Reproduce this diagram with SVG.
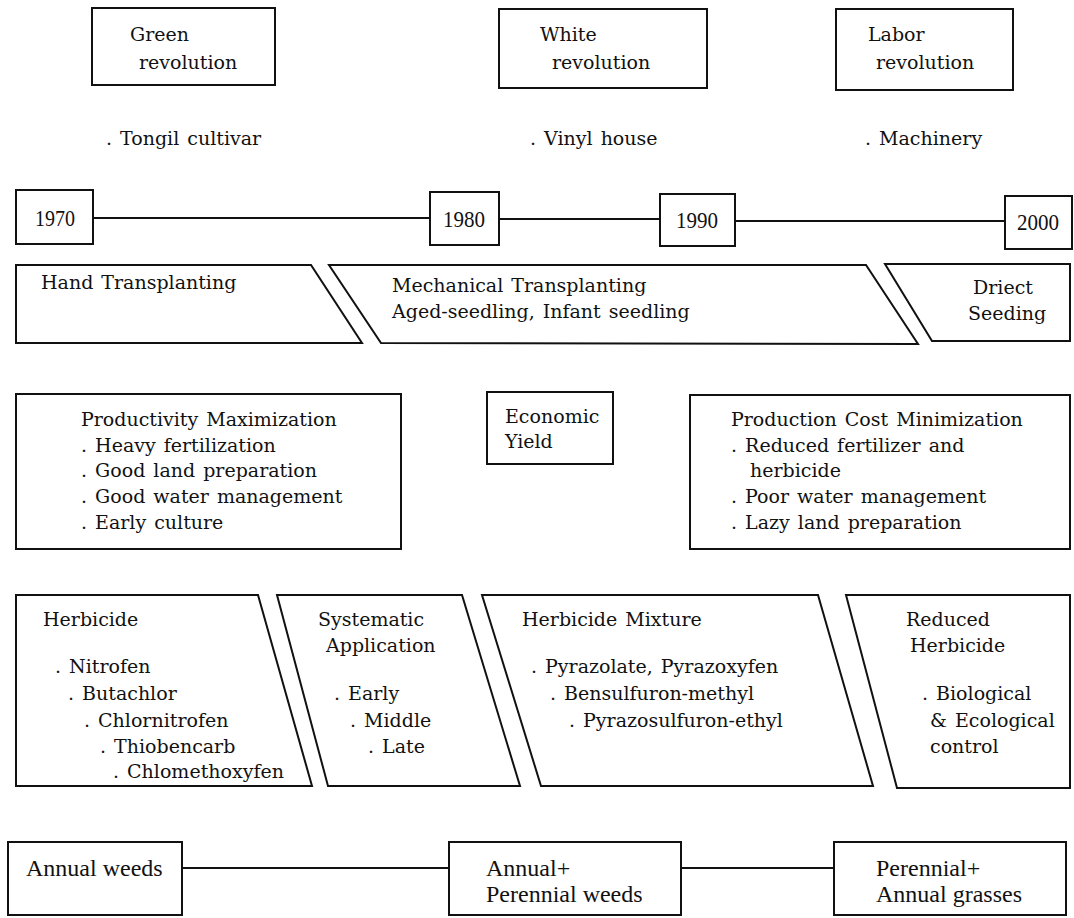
<svg xmlns="http://www.w3.org/2000/svg" width="1074" height="918" viewBox="0 0 1074 918">
<style>
.b{fill:none;stroke:#111;stroke-width:2}
.c{stroke:#111;stroke-width:2;fill:none}
text{font-family:"DejaVu Serif","Liberation Serif",serif;font-size:19px;word-spacing:2px;fill:#111}
.y{font-family:"Liberation Serif",serif;font-size:24px;word-spacing:0;text-anchor:middle}
.w{font-family:"Liberation Serif",serif;font-size:24px;word-spacing:0}
</style>
<rect width="1074" height="918" fill="#fff"/>
<g id="connectors">
<line class="c" x1="93" y1="218" x2="430" y2="218"/>
<line class="c" x1="499" y1="219" x2="660" y2="219"/>
<line class="c" x1="735" y1="221" x2="1005" y2="221"/>
<line class="c" x1="182" y1="868" x2="449" y2="868"/>
<line class="c" x1="681" y1="868" x2="834" y2="868"/>
</g>
<g id="green"><rect class="b" x="92" y="8" width="183" height="77"/><text x="130" y="41">Green</text><text x="139" y="69">revolution</text></g>
<g id="white"><rect class="b" x="499" y="9" width="208" height="79"/><text x="540" y="41">White</text><text x="552" y="69">revolution</text></g>
<g id="labor"><rect class="b" x="836" y="9" width="177" height="81"/><text x="868" y="41">Labor</text><text x="876" y="69">revolution</text></g>
<g id="tongil"><text x="106" y="145">. Tongil cultivar</text></g>
<g id="vinyl"><text x="530" y="145">. Vinyl house</text></g>
<g id="machinery"><text x="865" y="145">. Machinery</text></g>
<g id="y1970"><rect class="b" x="16" y="190" width="77" height="54"/><text class="y" x="55" y="226" textLength="40" lengthAdjust="spacingAndGlyphs">1970</text></g>
<g id="y1980"><rect class="b" x="430" y="192" width="69" height="53"/><text class="y" x="464" y="227" textLength="42" lengthAdjust="spacingAndGlyphs">1980</text></g>
<g id="y1990"><rect class="b" x="660" y="194" width="75" height="52"/><text class="y" x="697" y="228" textLength="42" lengthAdjust="spacingAndGlyphs">1990</text></g>
<g id="y2000"><rect class="b" x="1005" y="196" width="67" height="53"/><text class="y" x="1038" y="230" textLength="42" lengthAdjust="spacingAndGlyphs">2000</text></g>
<g id="hand"><polygon class="b" points="16,265 311,265 362,343 16,343"/><text x="41" y="289">Hand Transplanting</text></g>
<g id="mech"><polygon class="b" points="329,265 866,265 918,344 381,343"/><text x="392" y="292">Mechanical Transplanting</text><text x="392" y="318">Aged-seedling, Infant seedling</text></g>
<g id="direct"><polygon class="b" points="885,264 1070,264 1070,341 932,341"/><text x="973" y="294">Driect</text><text x="968" y="320">Seeding</text></g>
<g id="prod"><rect class="b" x="16" y="394" width="385" height="155"/><text x="81" y="426">Productivity Maximization</text><text x="81" y="452">. Heavy fertilization</text><text x="81" y="477">. Good land preparation</text><text x="81" y="503">. Good water management</text><text x="81" y="529">. Early culture</text></g>
<g id="econ"><rect class="b" x="487" y="392" width="126" height="72"/><text x="505" y="423">Economic</text><text x="505" y="448">Yield</text></g>
<g id="cost"><rect class="b" x="690" y="395" width="380" height="154"/><text x="731" y="426">Production Cost Minimization</text><text x="731" y="452">. Reduced fertilizer and</text><text x="750" y="477">herbicide</text><text x="731" y="503">. Poor water management</text><text x="731" y="529">. Lazy land preparation</text></g>
<g id="herb"><polygon class="b" points="16,595 258,595 312,786 16,786"/><text x="43" y="626">Herbicide</text><text x="55" y="673">. Nitrofen</text><text x="68" y="700">. Butachlor</text><text x="84" y="727">. Chlornitrofen</text><text x="100" y="753">. Thiobencarb</text><text x="113" y="778">. Chlomethoxyfen</text></g>
<g id="syst"><polygon class="b" points="277,595 462,595 520,786 328,786"/><text x="318" y="626">Systematic</text><text x="326" y="652">Application</text><text x="334" y="700">. Early</text><text x="350" y="727">. Middle</text><text x="368" y="753">. Late</text></g>
<g id="mix"><polygon class="b" points="482,595 818,595 873,786 541,786"/><text x="522" y="626">Herbicide Mixture</text><text x="531" y="673">. Pyrazolate, Pyrazoxyfen</text><text x="550" y="700">. Bensulfuron-methyl</text><text x="569" y="727">. Pyrazosulfuron-ethyl</text></g>
<g id="reduced"><polygon class="b" points="846,595 1070,595 1070,788 897,788"/><text x="906" y="626">Reduced</text><text x="910" y="652">Herbicide</text><text x="922" y="700">. Biological</text><text x="930" y="727">&amp; Ecological</text><text x="930" y="753">control</text></g>
<g id="annual"><rect class="b" x="8" y="842" width="174" height="73"/><text class="w" x="26" y="876">Annual weeds</text></g>
<g id="annper"><rect class="b" x="449" y="842" width="232" height="73"/><text class="w" x="486" y="876">Annual+</text><text class="w" x="486" y="902">Perennial weeds</text></g>
<g id="pergr"><rect class="b" x="834" y="842" width="232" height="73"/><text class="w" x="876" y="876">Perennial+</text><text class="w" x="876" y="902">Annual grasses</text></g>
</svg>
